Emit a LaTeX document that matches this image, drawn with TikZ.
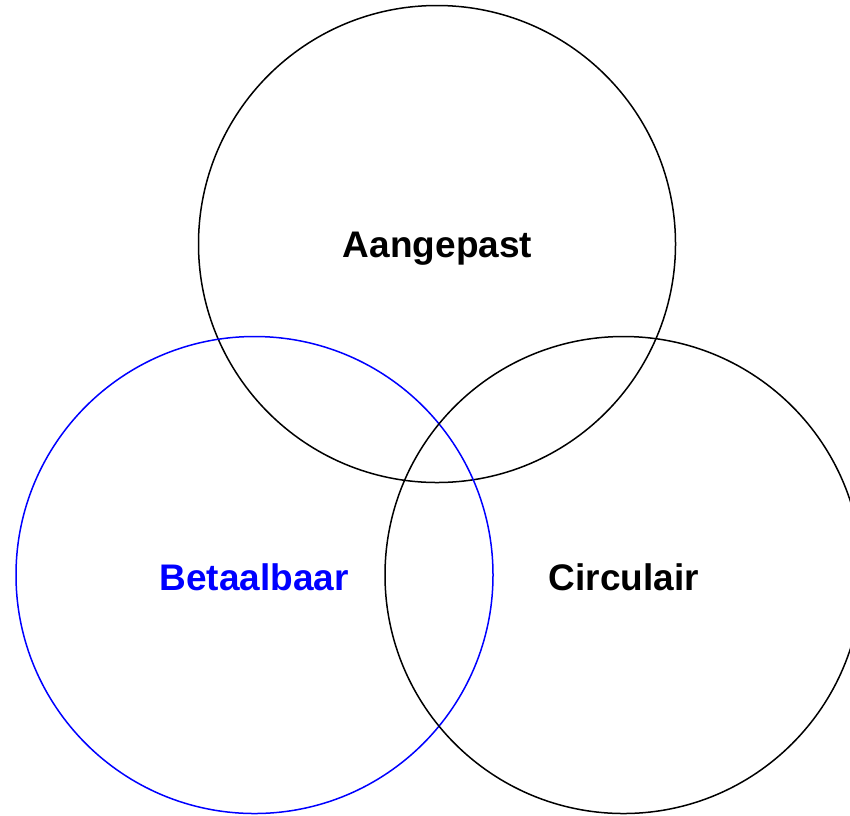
\documentclass[tikz,border=0pt]{standalone}
\usepackage{fontspec}
\setmainfont{Liberation Sans}
\begin{document}
\begin{tikzpicture}[x=1pt,y=-1pt,
  ring/.style={draw=black,line width=1.5pt},
  lbl/.style={font=\fontsize{37}{41}\selectfont\bfseries,anchor=base,inner sep=0pt}]
\useasboundingbox (0,0) rectangle (850,815);
\clip (0,0) rectangle (850,815);
\fill[white] (0,0) rectangle (850,815);
\node[ring,circle,minimum size=477pt,inner sep=0pt] (top) at (437,244) {};
\node[ring,draw=blue,circle,minimum size=477pt,inner sep=0pt] (left) at (254.5,575) {};
\node[ring,circle,minimum size=477pt,inner sep=0pt] (right) at (623.5,575) {};
\node[lbl] (ta) at (437.5,257) {Aangepast};
\node[lbl,text=blue] (tb) at (254,590) {Betaalbaar};
\node[lbl] (tc) at (624,590) {Circulair};
\end{tikzpicture}
\end{document}
